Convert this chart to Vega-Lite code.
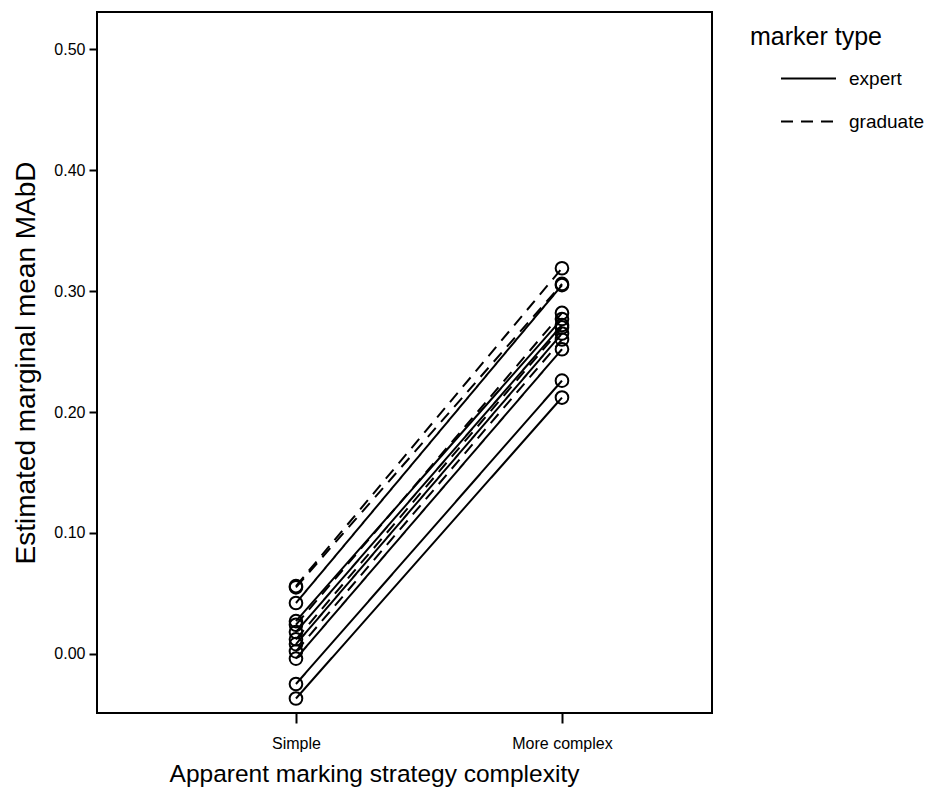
{
  "$schema": "https://vega.github.io/schema/vega-lite/v6.json",
  "width": 615,
  "height": 701,
  "autosize": {"type": "none"},
  "padding": {"left": 97, "top": 12, "right": 223, "bottom": 85},
  "background": "white",
  "config": {
    "font": "Liberation Sans",
    "view": {"stroke": "black", "strokeWidth": 2}
  },
  "data": {
    "values": [
      {"id": 1, "type": "expert", "strategy": 1, "mabd": -0.037},
      {"id": 1, "type": "expert", "strategy": 2, "mabd": 0.212},
      {"id": 2, "type": "expert", "strategy": 1, "mabd": -0.025},
      {"id": 2, "type": "expert", "strategy": 2, "mabd": 0.226},
      {"id": 3, "type": "expert", "strategy": 1, "mabd": -0.004},
      {"id": 3, "type": "expert", "strategy": 2, "mabd": 0.252},
      {"id": 4, "type": "expert", "strategy": 1, "mabd": 0.008},
      {"id": 4, "type": "expert", "strategy": 2, "mabd": 0.265},
      {"id": 5, "type": "expert", "strategy": 1, "mabd": 0.018},
      {"id": 5, "type": "expert", "strategy": 2, "mabd": 0.272},
      {"id": 6, "type": "expert", "strategy": 1, "mabd": 0.027},
      {"id": 6, "type": "expert", "strategy": 2, "mabd": 0.277},
      {"id": 7, "type": "expert", "strategy": 1, "mabd": 0.042},
      {"id": 7, "type": "expert", "strategy": 2, "mabd": 0.305},
      {"id": 8, "type": "graduate", "strategy": 1, "mabd": 0.056},
      {"id": 8, "type": "graduate", "strategy": 2, "mabd": 0.319},
      {"id": 9, "type": "graduate", "strategy": 1, "mabd": 0.055},
      {"id": 9, "type": "graduate", "strategy": 2, "mabd": 0.306},
      {"id": 10, "type": "graduate", "strategy": 1, "mabd": 0.024},
      {"id": 10, "type": "graduate", "strategy": 2, "mabd": 0.282},
      {"id": 11, "type": "graduate", "strategy": 1, "mabd": 0.002},
      {"id": 11, "type": "graduate", "strategy": 2, "mabd": 0.260},
      {"id": 12, "type": "graduate", "strategy": 1, "mabd": 0.012},
      {"id": 12, "type": "graduate", "strategy": 2, "mabd": 0.270}
    ]
  },
  "encoding": {
    "x": {
      "field": "strategy",
      "type": "quantitative",
      "scale": {"domain": [0.252, 2.564], "nice": false, "zero": false},
      "axis": {
        "values": [1, 2],
        "labelExpr": "datum.value == 1 ? 'Simple' : 'More complex'",
        "title": "Apparent marking strategy complexity",
        "titleFontSize": 24.5,
        "titleFontWeight": "normal",
        "titleColor": "black",
        "titlePadding": 11,
        "titleX": 277,
        "titleAlign": "center",
        "labelFontSize": 16,
        "labelColor": "black",
        "labelPadding": 12,
        "tickSize": 10,
        "tickWidth": 2,
        "tickColor": "black",
        "domain": false,
        "grid": false
      }
    },
    "y": {
      "field": "mabd",
      "type": "quantitative",
      "scale": {"domain": [-0.049, 0.531], "nice": false, "zero": false},
      "axis": {
        "values": [0, 0.1, 0.2, 0.3, 0.4, 0.5],
        "format": ".2f",
        "title": "Estimated marginal mean MAbD",
        "titleFontSize": 28,
        "titleFontWeight": "normal",
        "titleColor": "black",
        "titlePadding": 13,
        "labelFontSize": 16,
        "labelColor": "black",
        "labelPadding": 4,
        "tickSize": 8,
        "tickWidth": 2,
        "tickColor": "black",
        "domain": false,
        "grid": false
      }
    }
  },
  "layer": [
    {
      "mark": {"type": "line", "color": "black", "strokeWidth": 2},
      "encoding": {
        "detail": {"field": "id"},
        "strokeDash": {
          "field": "type",
          "type": "nominal",
          "scale": {"domain": ["expert", "graduate"], "range": [[1, 0], [12, 8]]},
          "legend": {
            "title": "marker type",
            "orient": "none",
            "legendX": 653,
            "legendY": 13,
            "titleFontSize": 25,
            "titleFontWeight": "normal",
            "titleColor": "black",
            "titlePadding": 0,
            "labelFontSize": 19,
            "labelColor": "black",
            "labelOffset": 12,
            "symbolType": "stroke",
            "symbolSize": 3025,
            "symbolStrokeWidth": 2,
            "symbolStrokeColor": "black",
            "symbolOffset": 30,
            "rowPadding": 4
          }
        }
      }
    },
    {
      "mark": {"type": "point", "shape": "circle", "filled": false, "color": "black", "strokeWidth": 2, "size": 160, "opacity": 1}
    }
  ]
}
